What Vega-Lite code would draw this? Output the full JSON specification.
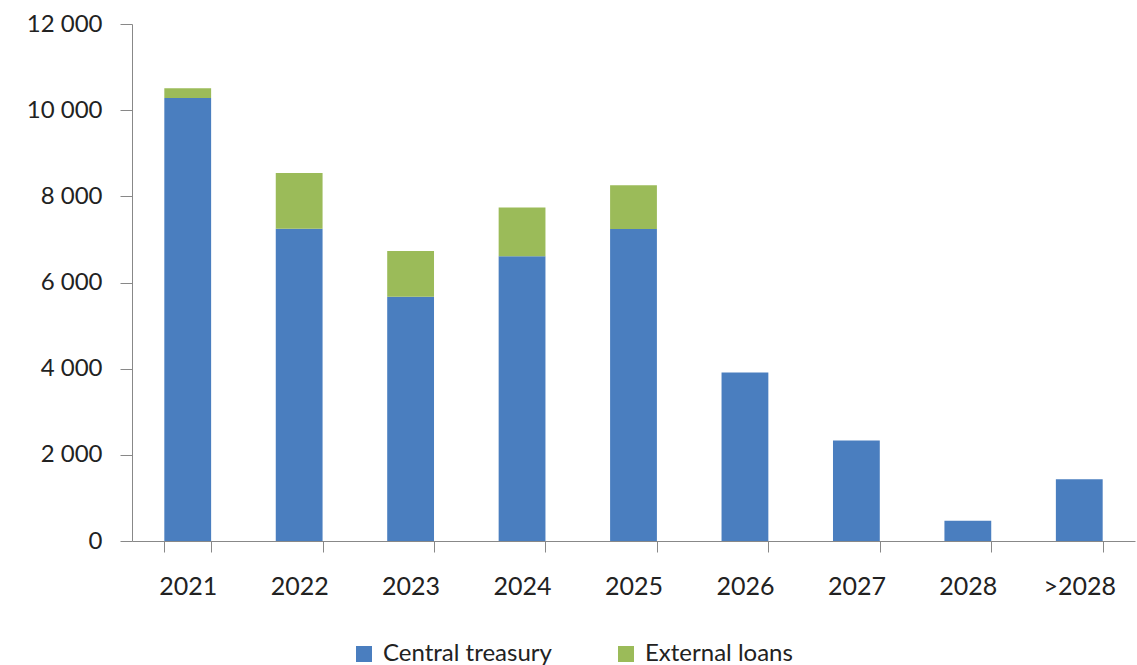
{
  "$schema": "https://vega.github.io/schema/vega-lite/v6.json",
  "width": 1003,
  "height": 517,
  "autosize": {"type": "none"},
  "padding": {"left": 132, "top": 24, "right": 2, "bottom": 124},
  "background": "white",
  "config": {"view": {"stroke": null}, "font": "Lato"},
  "data": {
    "values": [
      {"year": "2021", "series": "Central treasury", "value": 10280},
      {"year": "2021", "series": "External loans", "value": 230},
      {"year": "2022", "series": "Central treasury", "value": 7250},
      {"year": "2022", "series": "External loans", "value": 1290},
      {"year": "2023", "series": "Central treasury", "value": 5670},
      {"year": "2023", "series": "External loans", "value": 1060},
      {"year": "2024", "series": "Central treasury", "value": 6610},
      {"year": "2024", "series": "External loans", "value": 1130},
      {"year": "2025", "series": "Central treasury", "value": 7240},
      {"year": "2025", "series": "External loans", "value": 1020},
      {"year": "2026", "series": "Central treasury", "value": 3910},
      {"year": "2027", "series": "Central treasury", "value": 2330},
      {"year": "2028", "series": "Central treasury", "value": 470},
      {"year": ">2028", "series": "Central treasury", "value": 1435}
    ]
  },
  "mark": {"type": "bar"},
  "encoding": {
    "x": {
      "field": "year",
      "type": "nominal",
      "sort": null,
      "scale": {"paddingInner": 0.58, "paddingOuter": 0.29},
      "axis": {
        "title": null,
        "labelAngle": 0,
        "labelFontSize": 25,
        "labelColor": "#222",
        "labelPadding": 22,
        "domainColor": "#888",
        "tickColor": "#888",
        "tickBand": "extent",
        "tickSize": 11
      }
    },
    "y": {
      "field": "value",
      "type": "quantitative",
      "aggregate": "sum",
      "stack": "zero",
      "scale": {"domain": [0, 12000]},
      "axis": {
        "title": null,
        "values": [0, 2000, 4000, 6000, 8000, 10000, 12000],
        "labelExpr": "replace(format(datum.value, ','), ',', ' ')",
        "labelFontSize": 24,
        "labelColor": "#222",
        "labelPadding": 18,
        "grid": false,
        "domainColor": "#888",
        "tickColor": "#888",
        "tickSize": 12
      }
    },
    "color": {
      "field": "series",
      "type": "nominal",
      "scale": {"domain": ["Central treasury", "External loans"], "range": ["#4A7EBF", "#9BBB59"]},
      "legend": {
        "title": null,
        "orient": "none",
        "legendX": 220,
        "legendY": 618,
        "direction": "horizontal",
        "symbolType": "square",
        "symbolSize": 256,
        "symbolStrokeWidth": 0,
        "labelFontSize": 24,
        "labelColor": "#222",
        "labelOffset": 7,
        "labelLimit": 400,
        "columnPadding": 62
      }
    },
    "order": {"field": "series", "sort": "ascending"}
  }
}
